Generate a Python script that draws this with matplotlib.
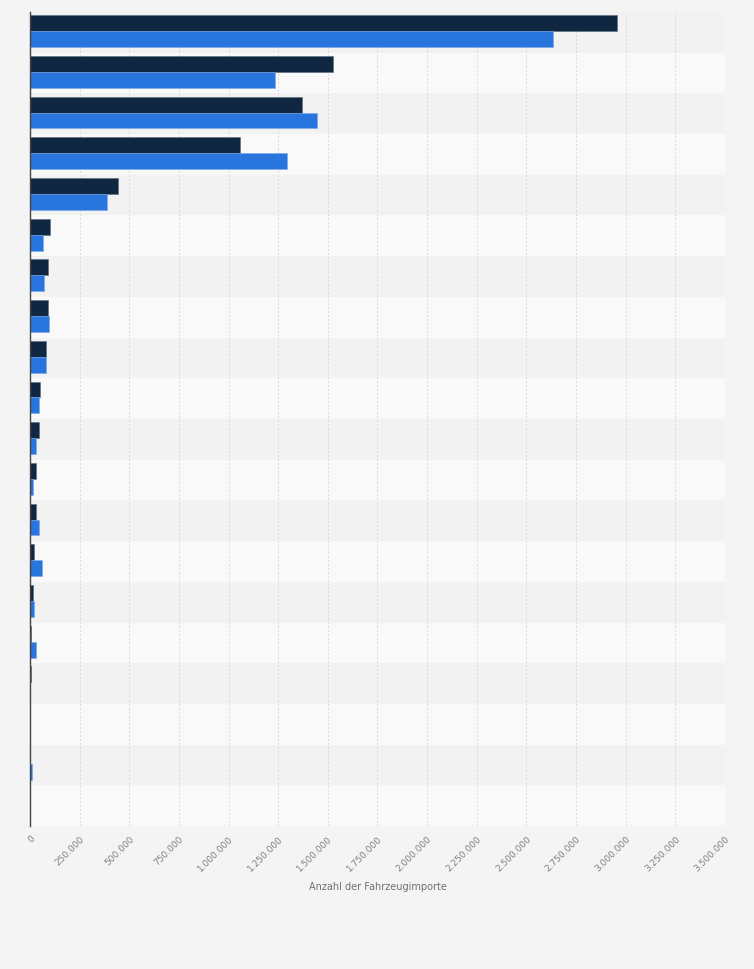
import numpy as np
import matplotlib
matplotlib.use("Agg")
import matplotlib.pyplot as plt

# 20 rows (category labels are not shown in the source image)
rows = list(range(1, 21))
series_dark = [2956000, 1526000, 1370000, 1057000, 443000,
               101000, 91000, 91000, 79000, 50000,
               45000, 30000, 30000, 18000, 13500,
               5000, 5000, 0, 0, 0]
series_blue = [2633000, 1234000, 1445000, 1294000, 388000,
               64000, 70000, 96000, 79000, 45000,
               30000, 13500, 45000, 60000, 18000,
               30000, 0, 0, 10000, 0]

x_ticks = np.arange(0, 3500001, 250000)
x_tick_labels = ["0" if v == 0 else f"{v:,}".replace(",", ".") for v in x_ticks]

fig = plt.figure(figsize=(7.54, 9.69), dpi=100)
fig.patch.set_facecolor("#f4f4f4")
ax = fig.add_axes([30 / 754, 1 - 826 / 969, 695 / 754, 814 / 969])
ax.set_facecolor("#f9f9f9")

y = np.arange(len(rows))
h = 0.39

# alternating row bands
for i in y:
    if i % 2 == 0:
        ax.axhspan(i - 0.5, i + 0.5, color="#f2f2f2", zorder=0, lw=0)

ax.barh(y - h / 2 - 0.03, series_dark, height=h, color="#0f2740",
        edgecolor="#5a6b7c", linewidth=0.4, zorder=3)
ax.barh(y + h / 2 - 0.03, series_blue, height=h, color="#2876dd",
        edgecolor="#7aa8e8", linewidth=0.4, zorder=3)

ax.set_ylim(len(rows) - 0.5, -0.5)
ax.set_xlim(0, 3500000)
ax.set_yticks([])
ax.set_xticks(x_ticks)
ax.set_xticklabels(x_tick_labels, rotation=45, ha="right", va="top",
                   rotation_mode="anchor", fontsize=6.5, color="#808080")
ax.tick_params(axis="x", length=0, pad=6)
ax.grid(axis="x", color="#dadada", linestyle=(0, (2, 2)), linewidth=0.7, zorder=1)

for s in ["top", "right", "bottom"]:
    ax.spines[s].set_visible(False)
ax.spines["left"].set_color("#444444")
ax.spines["left"].set_linewidth(1.0)
ax.spines["left"].set_zorder(4)

ax.set_xlabel("Anzahl der Fahrzeugimporte", fontsize=7, color="#707070", labelpad=6)

fig.savefig("out.png", dpi=100, facecolor=fig.get_facecolor())
